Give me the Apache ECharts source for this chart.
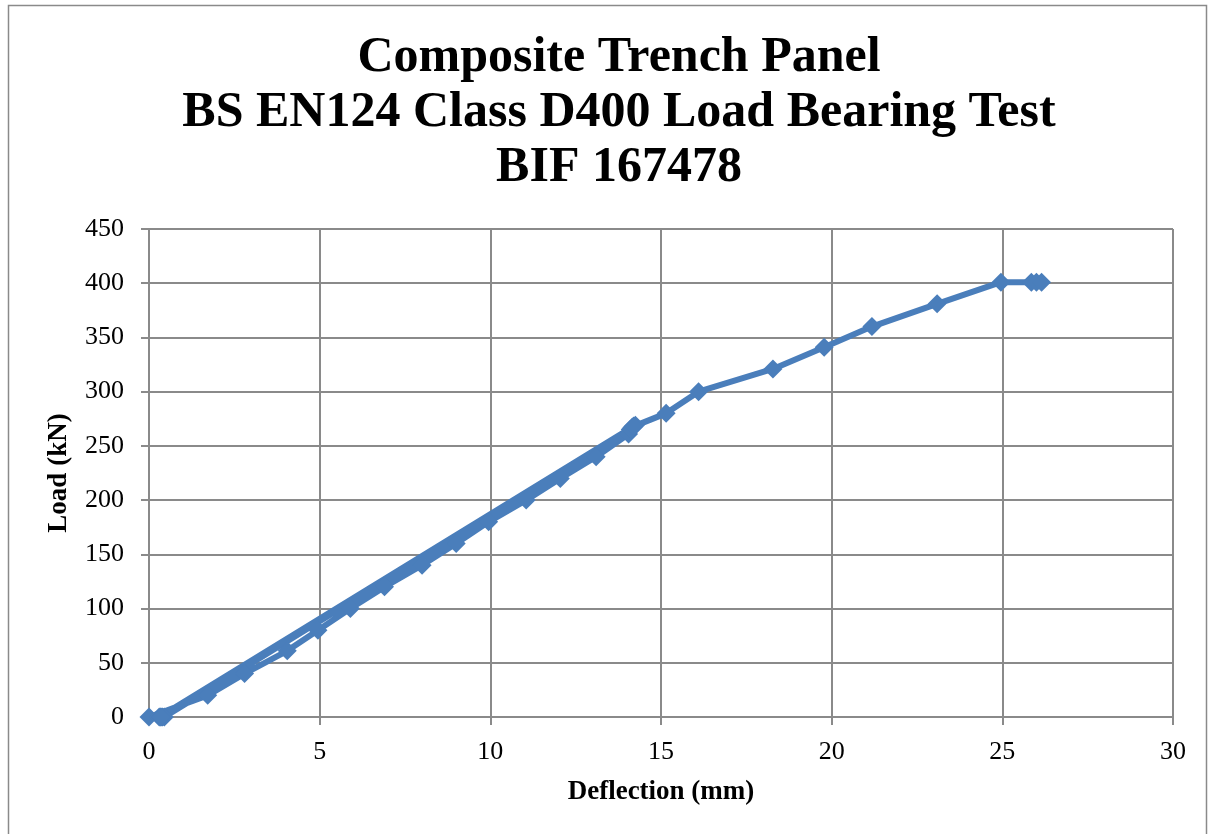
<!DOCTYPE html>
<html>
<head>
<meta charset="utf-8">
<script src="https://cdn.jsdelivr.net/npm/echarts@6/dist/echarts.min.js"></script>
<style>html,body{margin:0;padding:0;background:#fff}#c{width:1214px;height:834px}</style>
</head>
<body>
<div id="c"></div>
<script>
// First loading run (kN steps of 20) up to 2/3 of test load
var firstLoadDefl = [0, 1.72, 2.8, 4.05, 4.95, 5.9, 6.9, 8.0, 9.0, 9.95, 11.05, 12.05, 13.1, 14.05, 14.15];
var firstLoadLoad = [0, 20, 40, 61, 80, 100, 120, 140, 160, 180, 200, 220, 240, 261, 267];
// Repeated unload / reload cycles (alternating residual and peak points)
var cycleDefl = [0.3, 14.2, 0.4, 14.25, 0.35, 14.1, 0.45, 14.2, 0.35, 14.2];
var cycleLoad = [0, 268, 0, 269, 0, 265, 0, 268, 0, 268];
// Final loading to test load and hold
var finalDefl = [15.15, 16.1, 18.28, 19.78, 21.18, 23.09, 24.96, 25.85, 26.0, 26.15];
var finalLoad = [280, 300, 321, 341, 360, 381, 401, 401, 401, 401];

var xTicks = [0, 5, 10, 15, 20, 25, 30];
var yTicks = [0, 50, 100, 150, 200, 250, 300, 350, 400, 450];

var allDefl = firstLoadDefl.concat(cycleDefl, finalDefl);
var allLoad = firstLoadLoad.concat(cycleLoad, finalLoad);
var data = allDefl.map(function (d, i) { return [d, allLoad[i]]; });

var chart = echarts.init(document.getElementById('c'));
var serif = '"Liberation Serif", "DejaVu Serif", serif';
var gray = '#8a8a8a';
chart.setOption({
  animation: false,
  backgroundColor: '#ffffff',
  title: {
    text: 'Composite Trench Panel\nBS EN124 Class D400 Load Bearing Test\nBIF 167478',
    left: 614,
    top: 26,
    textAlign: 'center',
    textStyle: { fontFamily: serif, fontWeight: 'bold', fontSize: 50, lineHeight: 55, color: '#000', align: 'center' }
  },
  graphic: [{
    type: 'rect', shape: { x: 8.5, y: 5.5, width: 1198, height: 840 },
    style: { fill: 'none', stroke: gray, lineWidth: 1.5 }, silent: true
  }],
  grid: { left: 149, right: 41, top: 229, bottom: 117, containLabel: false },
  xAxis: {
    type: 'value', min: xTicks[0], max: xTicks[xTicks.length - 1], interval: 5,
    name: 'Deflection (mm)', nameLocation: 'middle', nameGap: 62,
    nameTextStyle: { fontFamily: serif, fontWeight: 'bold', fontSize: 27, color: '#000' },
    axisLine: { show: true, lineStyle: { color: gray, width: 2 } },
    axisTick: { show: true, length: 8, inside: false, lineStyle: { color: gray, width: 2 } },
    axisLabel: { fontFamily: serif, fontSize: 26, color: '#000', margin: 22 },
    splitLine: { show: true, lineStyle: { color: gray, width: 2 } }
  },
  yAxis: {
    type: 'value', min: yTicks[0], max: yTicks[yTicks.length - 1], interval: 50,
    name: 'Load (kN)', nameLocation: 'middle', nameGap: 76, nameRotate: 90,
    nameTextStyle: { fontFamily: serif, fontWeight: 'bold', fontSize: 27, color: '#000' },
    axisLine: { show: true, lineStyle: { color: gray, width: 2 } },
    axisTick: { show: true, length: 8, inside: false, lineStyle: { color: gray, width: 2 } },
    axisLabel: { fontFamily: serif, fontSize: 26, color: '#000', margin: 25 },
    splitLine: { show: true, lineStyle: { color: gray, width: 2 } }
  },
  series: [{
    type: 'line',
    data: data,
    symbol: 'diamond',
    symbolSize: 19,
    showAllSymbol: true,
    lineStyle: { color: '#4a7ebb', width: 6 },
    itemStyle: { color: '#4a7ebb' }
  }]
});
</script>
</body>
</html>
